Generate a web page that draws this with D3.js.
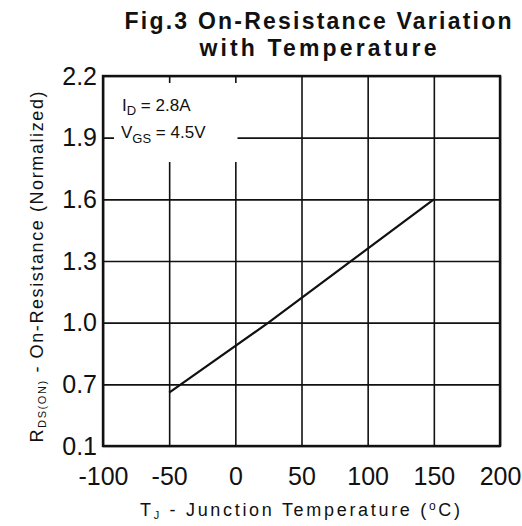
<!DOCTYPE html>
<html>
<head>
<meta charset="utf-8">
<script src="https://cdn.jsdelivr.net/npm/d3@7"></script>
<style>
  html, body { margin: 0; padding: 0; background: #fff; }
  svg { display: block; }
  text { font-family: "Liberation Sans", Arial, sans-serif; fill: #111; }
</style>
</head>
<body>
<script>
// ---- data ----
const xTicks = [-100, -50, 0, 50, 100, 150, 200];
const yTicks = [0.1, 0.7, 1.0, 1.3, 1.6, 1.9, 2.2];
const tempC = [-50, 25, 150];
const rdsNorm = [0.62, 1.0, 1.6];
const titleLines = ["Fig.3 On-Resistance Variation", "with Temperature"];

const W = 522, H = 526;
const m = { left: 103, right: 500, top: 76, bottom: 446 };

const svg = d3.select("body").append("svg").attr("width", W).attr("height", H);

const x = d3.scaleLinear().domain([-100, 200]).range([m.left, m.right]);
// axis labels are evenly spaced, bottom gridline labelled 0.1
const y = d3.scaleLinear().domain([0.1, 0.7, 2.2])
  .range([m.bottom, m.bottom - (m.bottom - m.top) / 6, m.top]);

const xFmt = d => String(d);
// grid via axes
const gx = svg.append("g").attr("transform", `translate(0,${m.bottom})`)
  .call(d3.axisBottom(x).tickValues(xTicks).tickSize(-(m.bottom - m.top)).tickPadding(21).tickFormat(xFmt));
gx.select(".domain").remove();
gx.selectAll("line").attr("stroke", "#111").attr("stroke-width", 1.6);
gx.selectAll("text").attr("font-size", 25).attr("fill", "#111");

const gy = svg.append("g").attr("transform", `translate(${m.left},0)`)
  .call(d3.axisLeft(y).tickValues(yTicks).tickSize(-(m.right - m.left)).tickPadding(6).tickFormat(d3.format(".1f")));
gy.select(".domain").remove();
gy.selectAll("line").attr("stroke", "#111").attr("stroke-width", 1.6);
gy.selectAll("text").attr("font-size", 25).attr("fill", "#111");

// legend mask
svg.append("rect").attr("x", 114).attr("y", 83).attr("width", 123.5).attr("height", 79).attr("fill", "#fff");

// frame
svg.append("rect").attr("x", m.left).attr("y", m.top)
  .attr("width", m.right - m.left).attr("height", m.bottom - m.top)
  .attr("fill", "none").attr("stroke", "#111").attr("stroke-width", 2.4);

// data line
svg.append("path")
  .datum(tempC.map((t, i) => [t, rdsNorm[i]]))
  .attr("d", d3.line().x(d => x(d[0])).y(d => y(d[1])))
  .attr("fill", "none").attr("stroke", "#111").attr("stroke-width", 2.2);

// legend text
const l1 = svg.append("text").attr("x", 122).attr("y", 111).attr("font-size", 17);
l1.append("tspan").text("I");
l1.append("tspan").attr("font-size", 13).attr("dy", 4).text("D");
l1.append("tspan").attr("dy", -4).text(" = 2.8A");
const l2 = svg.append("text").attr("x", 121).attr("y", 138).attr("font-size", 17);
l2.append("tspan").text("V");
l2.append("tspan").attr("font-size", 13).attr("dy", 5).text("GS");
l2.append("tspan").attr("dy", -5).text(" = 4.5V");

// title
svg.append("text").attr("x", 318).attr("y", 29).attr("text-anchor", "middle")
  .attr("font-size", 23).attr("font-weight", "bold")
  .attr("textLength", 387).attr("lengthAdjust", "spacing").text(titleLines[0]);
svg.append("text").attr("x", 318).attr("y", 56).attr("text-anchor", "middle")
  .attr("font-size", 23).attr("font-weight", "bold")
  .attr("textLength", 237).attr("lengthAdjust", "spacing").text(titleLines[1]);

// x axis title
const xt = svg.append("text").attr("x", 300).attr("y", 516).attr("text-anchor", "middle")
  .attr("font-size", 18).attr("textLength", 320).attr("lengthAdjust", "spacing");
xt.append("tspan").text("T");
xt.append("tspan").attr("font-size", 11).attr("dy", 3).text("J");
xt.append("tspan").attr("dy", -3).text(" - Junction Temperature (");
xt.append("tspan").attr("font-size", 12).attr("dy", -6).text("o");
xt.append("tspan").attr("dy", 6).text("C)");

// y axis title
const yt = svg.append("text").attr("transform", "translate(43,267) rotate(-90)")
  .attr("text-anchor", "middle").attr("font-size", 18)
  .attr("textLength", 351).attr("lengthAdjust", "spacing");
yt.append("tspan").text("R");
yt.append("tspan").attr("font-size", 11).attr("dy", 3).text("DS(ON)");
yt.append("tspan").attr("dy", -3).text(" - On-Resistance (Normalized)");
</script>
</body>
</html>
